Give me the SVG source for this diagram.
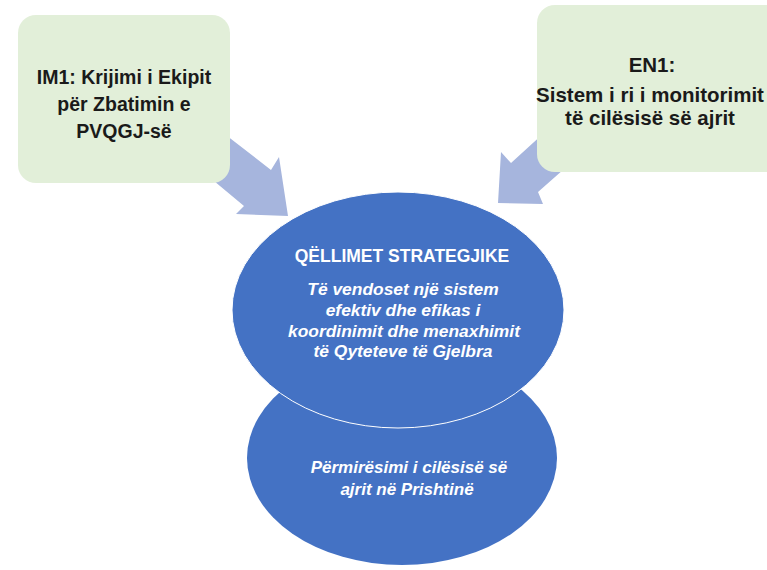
<svg xmlns="http://www.w3.org/2000/svg" width="767" height="570" viewBox="0 0 767 570">
<style>
.box{fill:#e2efd9;}
.arrow{fill:#a6b5dd;}
.ell{fill:#4472c4;}
.bt{font-family:"Liberation Sans",Arial,sans-serif;font-weight:bold;fill:#1a1a1a;text-anchor:middle;}
.wt{font-family:"Liberation Sans",Arial,sans-serif;font-weight:bold;fill:#ffffff;text-anchor:middle;}
.it{font-style:italic;}
</style>
<rect width="767" height="570" fill="#ffffff"/>
<g id="connectors">
<polygon class="arrow" points="222,132 271,170 279,157 288,216 236,214 244,206 208,176"/>
<polygon class="arrow" points="545,132 511,163 501,152 498,203 543,204 538,192 572,162"/>
</g>
<g id="goal-bottom">
<ellipse class="ell" cx="402" cy="458" rx="155" ry="107"/>
<text class="wt it" font-size="17"><tspan x="409" y="473">Përmirësimi i cilësisë së</tspan><tspan x="407" y="495">ajrit në Prishtinë</tspan></text>
</g>
<g id="goal-top">
<ellipse class="ell" cx="398" cy="310" rx="166" ry="118" stroke="#ffffff" stroke-width="1"/>
<text class="wt" font-size="17.5" x="402" y="262">QËLLIMET STRATEGJIKE</text>
<text class="wt it" font-size="17.4"><tspan x="403" y="295">Të vendoset një sistem</tspan><tspan x="403" y="316">efektiv dhe efikas i</tspan><tspan x="404" y="337">koordinimit dhe menaxhimit</tspan><tspan x="403" y="357">të Qyteteve të Gjelbra</tspan></text>
</g>
<g id="im1">
<rect class="box" x="18" y="15" width="212" height="168" rx="18"/>
<text class="bt" font-size="19.5"><tspan x="124" y="84">IM1: Krijimi i Ekipit</tspan><tspan x="124" y="111">për Zbatimin e</tspan><tspan x="124" y="138">PVQGJ-së</tspan></text>
</g>
<g id="en1">
<rect class="box" x="537" y="5" width="250" height="167" rx="18"/>
<text class="bt" font-size="20.5"><tspan x="652" y="72">EN1:</tspan><tspan x="650" y="102">Sistem i ri i monitorimit</tspan><tspan x="650" y="125">të cilësisë së ajrit</tspan></text>
</g>
</svg>
